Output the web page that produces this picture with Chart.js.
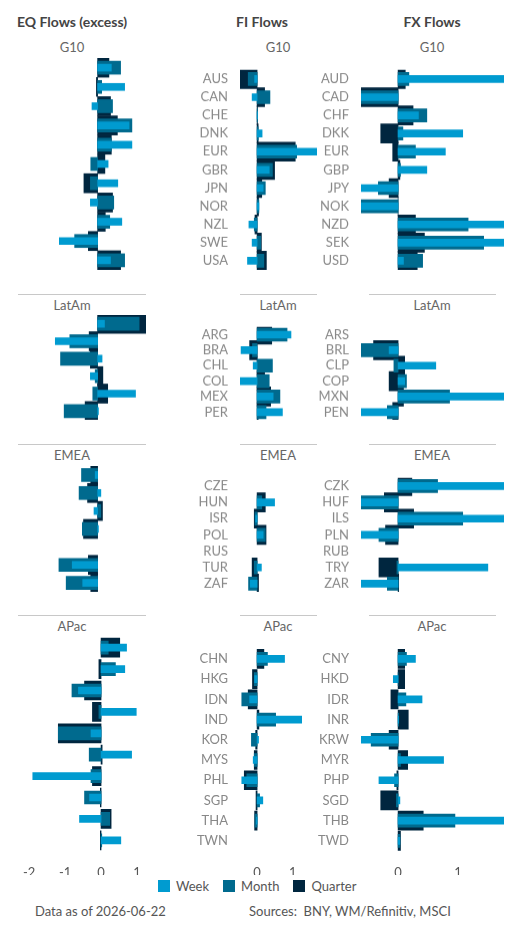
<!DOCTYPE html>
<html><head><meta charset="utf-8">
<script src="https://cdn.jsdelivr.net/npm/chart.js@4/dist/chart.umd.min.js"></script>
<style>
body{margin:0;width:515px;height:927px;position:relative;background:#fff;font-family:Lato,sans-serif;overflow:hidden}
.a{position:absolute}
.h{font-weight:bold;font-size:14px;color:#444;text-align:center;top:13px}
.g{font-size:13px;color:#666;text-align:center}
.sep{height:1px;background:#c8c8c8}
.ft{font-size:13px;color:#555;top:903px}
.lg{top:878px;font-size:13px;color:#555;display:flex;align-items:center}
.sw{width:12px;height:12px;display:inline-block;margin-right:6px}
</style></head><body>
<script>
// ---- categories ----
const eqG10 = ["AUS","CAN","CHE","DNK","EUR","GBR","JPN","NOR","NZL","SWE","USA"];
const eqLatAm = ["ARG","BRA","CHL","COL","MEX","PER"];
const eqEMEA = ["CZE","HUN","ISR","POL","RUS","TUR","ZAF"];
const eqAPac = ["CHN","HKG","IDN","IND","KOR","MYS","PHL","SGP","THA","TWN"];
const fxG10 = ["AUD","CAD","CHF","DKK","EUR","GBP","JPY","NOK","NZD","SEK","USD"];
const fxLatAm = ["ARS","BRL","CLP","COP","MXN","PEN"];
const fxEMEA = ["CZK","HUF","ILS","PLN","RUB","TRY","ZAR"];
const fxAPac = ["CNY","HKD","IDR","INR","KRW","MYR","PHP","SGD","THB","TWD"];
const groupNames = ["G10","LatAm","EMEA","APac"];
const seriesNames = ["Week","Month","Quarter"];
const ticksEQ = [-2,-1,0,1];
const ticksFI = [0,1];
const ticksFX = [0,1];
// ---- EQ ----
const eqG10Week =    [0.34,0.67,-0.14,0.78,0.85,0.26,0.5,-0.18,0.6,-0.95,0.32];
const eqG10Month =   [0.57,0.1,0.37,0.85,0.34,-0.17,-0.18,0.4,0.3,-0.57,0.67];
const eqG10Quarter = [0.28,-0.03,0.32,0.49,0.34,0.18,-0.34,0.37,0.19,-0.23,0.57];
const eqLatAmWeek =    [0.17,-1.05,0.11,-0.18,0.94,0.02];
const eqLatAmMonth =   [1.03,-0.69,-0.92,-0.06,-0.12,-0.83];
const eqLatAmQuarter = [1.21,-0.21,-0.18,0.13,0.25,-0.31];
const eqEMEAWeek =    [-0.06,0.08,-0.09,0.02,null,-0.63,-0.37];
const eqEMEAMonth =   [-0.4,-0.46,0.08,-0.38,null,-0.96,-0.78];
const eqEMEAQuarter = [-0.17,-0.25,0.12,-0.35,null,-0.23,-0.17];
const eqAPacWeek =    [0.71,0.66,-0.63,0.98,-0.28,0.85,-1.9,-0.32,-0.6,0.55];
const eqAPacMonth =   [0.2,0.4,-0.81,-0.06,-1.19,-0.33,-0.28,-0.46,0.24,0.02];
const eqAPacQuarter = [0.52,-0.06,-0.46,-0.24,-1.19,0.03,-0.24,-0.02,0.28,-0.02];
// ---- FI ----
const fiG10Week =    [-0.07,-0.14,0.01,0.14,1.69,0.34,0.17,0.05,-0.23,-0.14,-0.27];
const fiG10Month =   [-0.25,0.36,0.01,0.03,1.11,0.43,0.23,0.05,-0.08,0.1,0.19];
const fiG10Quarter = [-0.49,0.21,0.01,0.03,1.07,0.49,0.13,0.04,-0.06,0.12,0.26];
const fiLatAmWeek =    [0.95,-0.45,-0.11,-0.51,0.45,0.71];
const fiLatAmMonth =   [0.84,-0.13,0.43,0.34,0.64,0.25];
const fiLatAmQuarter = [0.41,-0.21,0.0,0.21,0.38,0.03];
const fiEMEAWeek =    [null,0.49,-0.04,0.17,null,0.12,-0.19];
const fiEMEAMonth =   [null,0.13,-0.06,0.23,null,-0.08,-0.24];
const fiEMEAQuarter = [null,0.23,-0.08,0.25,null,-0.14,0.04];
const fiAPacWeek =    [0.77,-0.07,-0.21,1.25,0.04,-0.11,-0.43,0.16,-0.02,null];
const fiAPacMonth =   [0.29,-0.08,-0.43,0.52,-0.16,-0.08,-0.29,0.07,-0.06,null];
const fiAPacQuarter = [0.19,-0.13,-0.25,0.05,-0.04,-0.08,-0.36,-0.03,-0.07,null];
// ---- FX ----
const fxG10Week =    [1.8,-0.7,0.34,1.08,0.79,0.48,-0.7,-0.7,1.8,1.8,0.09];
const fxG10Month =   [0.18,-0.7,0.48,0.08,0.29,0.04,-0.33,-0.7,1.17,1.43,0.41];
const fxG10Quarter = [0.12,-0.7,0.25,-0.29,-0.09,0.03,-0.15,0.0,0.29,0.44,0.32];
const fxLatAmWeek =    [null,-0.15,0.63,0.11,1.8,-0.7];
const fxLatAmMonth =   [null,-0.7,-0.07,0.14,0.86,-0.18];
const fxLatAmQuarter = [null,-0.41,0.11,-0.15,0.09,-0.09];
const fxEMEAWeek =    [1.8,-0.7,1.8,-0.7,null,1.5,-0.7];
const fxEMEAMonth =   [0.66,-0.7,1.08,-0.32,null,-0.02,-0.18];
const fxEMEAQuarter = [0.23,-0.23,0.26,-0.21,null,-0.32,0.01];
const fxAPacWeek =    [0.29,-0.08,0.4,0.01,-0.7,0.76,-0.32,0.03,1.8,0.03];
const fxAPacMonth =   [0.14,0.0,0.13,0.01,-0.45,0.04,-0.06,-0.03,0.95,0.03];
const fxAPacQuarter = [0.11,0.11,-0.12,0.17,-0.15,0.16,-0.02,-0.29,0.42,0.04];

const colors = ["#009bd0","#006a8e","#00263f"];
const thick = [7,13,19];
const rowH = 21.4;
const groupTop = [58.3,315.3,466.3,637.3];
const cols = [
  {name:"EQ", left:17, width:129, yw:0, min:-2, max:1.2, ticks:ticksEQ, cats:[eqG10,eqLatAm,eqEMEA,eqAPac],
   data:[[eqG10Week,eqG10Month,eqG10Quarter],[eqLatAmWeek,eqLatAmMonth,eqLatAmQuarter],[eqEMEAWeek,eqEMEAMonth,eqEMEAQuarter],[eqAPacWeek,eqAPacMonth,eqAPacQuarter]],
   title:"EQ Flows (excess)", tx:72, sep:[18,146], gx:72},
  {name:"FI", left:197, width:120, yw:43, min:-0.48, max:1.68, ticks:ticksFI, cats:[eqG10,eqLatAm,eqEMEA,eqAPac],
   data:[[fiG10Week,fiG10Month,fiG10Quarter],[fiLatAmWeek,fiLatAmMonth,fiLatAmQuarter],[fiEMEAWeek,fiEMEAMonth,fiEMEAQuarter],[fiAPacWeek,fiAPacMonth,fiAPacQuarter]],
   title:"FI Flows", tx:262, sep:[240,317], gx:278},
  {name:"FX", left:318, width:186, yw:43, min:-0.62, max:1.77, ticks:ticksFX, cats:[fxG10,fxLatAm,fxEMEA,fxAPac],
   data:[[fxG10Week,fxG10Month,fxG10Quarter],[fxLatAmWeek,fxLatAmMonth,fxLatAmQuarter],[fxEMEAWeek,fxEMEAMonth,fxEMEAQuarter],[fxAPacWeek,fxAPacMonth,fxAPacQuarter]],
   title:"FX Flows", tx:432, sep:[369,496], gx:432}
];
function el(cls, css, txt){const d=document.createElement('div');d.className='a '+cls;Object.assign(d.style,css);if(txt!=null)d.textContent=txt;document.body.appendChild(d);return d;}
const titleY=[39,297,447,618];
cols.forEach(c=>{
  el('h',{left:(c.tx-80)+'px',width:'160px'},c.title);
  groupNames.forEach((g,gi)=>{
    el('g',{left:(c.gx-40)+'px',width:'80px',top:titleY[gi]+'px'},g);
    if(gi>0) el('sep',{left:c.sep[0]+'px',width:(c.sep[1]-c.sep[0])+'px',top:(titleY[gi]-3)+'px'});
    const labels=c.cats[gi];
    const bottom = gi===3;
    const h = labels.length*rowH + (bottom?24:0);
    const cv=document.createElement('canvas');
    cv.style.position='absolute';cv.style.left=c.left+'px';cv.style.top=groupTop[gi]+'px';
    cv.style.width=c.width+'px';cv.style.height=h+'px';cv.width=c.width;cv.height=h;
    document.body.appendChild(cv);
    new Chart(cv,{type:'bar',
      data:{labels:labels,datasets:c.data[gi].map((arr,k)=>({label:seriesNames[k],data:arr,backgroundColor:colors[k],barThickness:thick[k],grouped:false,borderWidth:0}))},
      options:{indexAxis:'y',responsive:false,animation:false,maintainAspectRatio:false,
        layout:{padding:0},
        plugins:{legend:{display:false},tooltip:{enabled:false}},
        scales:{
          x:{min:c.min,max:c.max,display:bottom,grid:{display:false},border:{display:false},
             afterBuildTicks:s=>{s.ticks=c.ticks.map(v=>({value:v}));},
             afterFit:s=>{s.height=24;},
             ticks:{color:'#555',font:{family:'Lato',size:13},padding:6}},
          y:{display:c.yw>0,grid:{display:false},border:{display:false},
             afterFit:s=>{s.width=c.yw;},
             ticks:{autoSkip:false,color:'#888',font:{family:'Lato',size:13},padding:4}}
        }}});
  });
});
// legend
const lg=el('lg',{left:'158px'});
seriesNames.forEach((n,k)=>{const s=document.createElement('span');s.style.display='flex';s.style.alignItems='center';s.style.marginRight='14px';s.innerHTML='<span class="sw" style="background:'+colors[k]+'"></span>'+n;lg.appendChild(s);});
el('ft',{left:'35px'},'Data as of 2026-06-22');
el('ft',{left:'249px',whiteSpace:'pre'},'Sources:  BNY, WM/Refinitiv, MSCI');
</script>
</body></html>
